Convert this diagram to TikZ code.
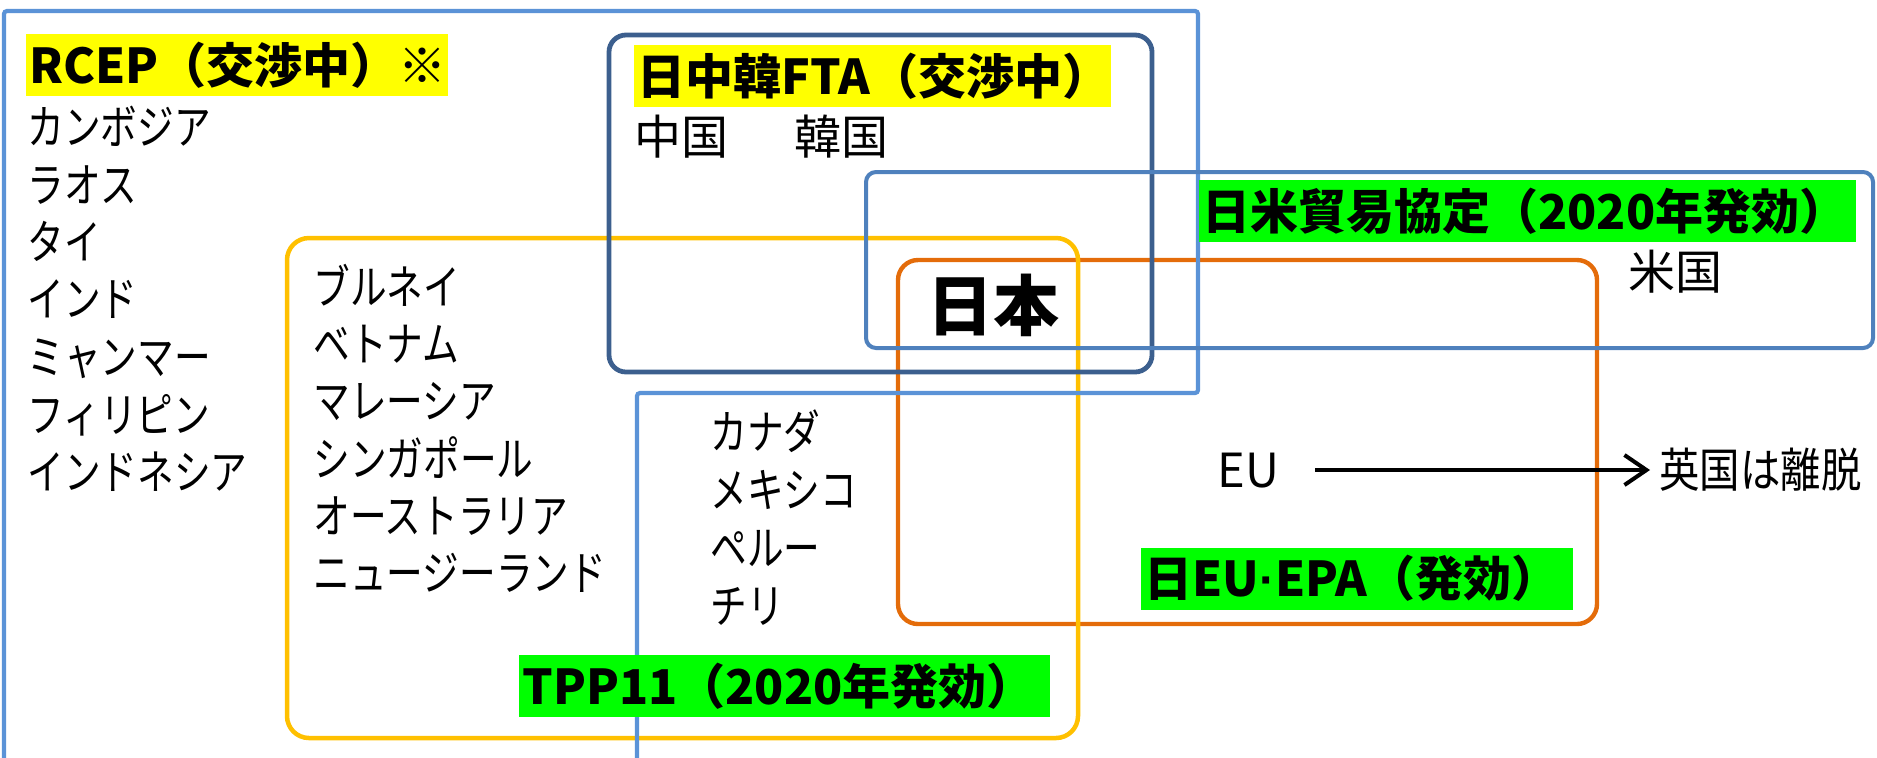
\documentclass[tikz,border=0pt]{standalone}
\usepackage{fontspec}
\setmainfont{Noto Sans CJK JP}
\newfontfamily\kana[FakeStretch=0.78]{Noto Sans CJK JP}
\newfontfamily\narrowjp[FakeStretch=0.86]{Noto Sans CJK JP}
\newfontfamily\dotfont{Liberation Sans}
\usetikzlibrary{arrows.meta}
\definecolor{rcepblue}{HTML}{5B93D7}
\definecolor{cjkblue}{HTML}{3C5F8E}
\definecolor{usblue}{HTML}{4F81BD}
\definecolor{tppgold}{HTML}{FFC000}
\definecolor{epaorange}{HTML}{E46C0A}
\definecolor{hlyellow}{HTML}{FFFF00}
\definecolor{hlgreen}{HTML}{00FF00}
\tikzset{
  body/.style={anchor=west, inner sep=0pt, text height=20.7pt, text depth=2.8pt,
    font=\fontsize{23.5pt}{28pt}\selectfont},
  kanatext/.style={body, font=\kana\fontsize{23.5pt}{28pt}\selectfont},
  headline/.style={anchor=west, inner xsep=1.5pt, inner ysep=0pt, minimum height=31pt,
    align=left, font=\bfseries\fontsize{24pt}{28pt}\selectfont},
  yellowhl/.style={headline, fill=hlyellow},
  greenhl/.style={headline, fill=hlgreen},
  frame/.style={line width=2pt},
}
\begin{document}
\begin{tikzpicture}[x=0.5pt,y=-0.5pt]
\useasboundingbox (0,0) rectangle (1877,757);
% outlines
\draw[frame, epaorange, line width=2.2pt, rounded corners=10pt] (898,260) rectangle (1597,624);
\draw[frame, tppgold, line width=2.25pt, rounded corners=11pt] (287,238) rectangle (1078,738);
\draw[frame, cjkblue, line width=2.4pt, rounded corners=8.5pt] (609,35) rectangle (1152,372);
\draw[frame, rcepblue, line width=2.1pt, rounded corners=1.5pt] (4,770) -- (4,11) -- (1198,11) -- (1198,393) -- (637,393) -- (637,770);
\draw[frame, usblue, rounded corners=5pt] (866,172) rectangle (1873,348);
% headlines
\node[yellowhl, text width=208pt] (rcep) at (26,65) {RCEP（交渉中）※};
\node[yellowhl, text width=235.5pt] (cjk) at (634,76) {日中韓FTA（交渉中）};
\node[greenhl, text width=325.5pt] (us) at (1199,211) {日米貿易協定（2020年発効）};
\node[greenhl, text width=262.5pt] (tpp) at (519,686) {TPP11（2020年発効）};
\node[greenhl, text width=213pt] (epa) at (1141,578.5) {日EU{\dotfont\bfseries ·}EPA（発効）};
% RCEP members
\node[kanatext] (r1) at (27,127) {カンボジア};
\node[kanatext] (r2) at (27,184.5) {ラオス};
\node[kanatext] (r3) at (27,242) {タイ};
\node[kanatext] (r4) at (27,299) {インド};
\node[kanatext] (r5) at (27,357) {ミャンマー};
\node[kanatext] (r6) at (27,414.5) {フィリピン};
\node[kanatext] (r7) at (27,472) {インドネシア};
% TPP members
\node[kanatext] (t1) at (313,287) {ブルネイ};
\node[kanatext] (t2) at (313,344) {ベトナム};
\node[kanatext] (t3) at (313,401) {マレーシア};
\node[kanatext] (t4) at (313,458.5) {シンガポール};
\node[kanatext] (t5) at (313,516) {オーストラリア};
\node[kanatext] (t6) at (313,573) {ニュージーランド};
\node[kanatext] (c1) at (710,432) {カナダ};
\node[kanatext] (c2) at (710,490) {メキシコ};
\node[kanatext] (c3) at (710,548) {ペルー};
\node[kanatext] (c4) at (710,606) {チリ};
% others
\node[body] (cn) at (634,137) {中国\hspace{33pt}韓国};
\node[body] (usa) at (1628,272) {米国};
\node[inner sep=0pt, text height=29pt, text depth=4pt, font=\bfseries\fontsize{33pt}{38pt}\selectfont] (jp) at (993,305) {日本};
\node[body] (eu) at (1217,470) {EU};
\node[body, font=\narrowjp\fontsize{23.5pt}{28pt}\selectfont] (uk) at (1659,470) {英国は離脱};
\draw[line width=2pt, -{Straight Barb[length=11pt,width=15pt]}, shorten <=18pt, shorten >=4.5pt] (eu.east) -- (uk.west);
\end{tikzpicture}
\end{document}
